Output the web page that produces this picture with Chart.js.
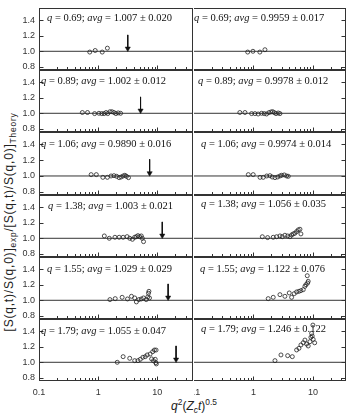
<!DOCTYPE html>
<html>
<head>
<meta charset="utf-8">
<script src="https://cdn.jsdelivr.net/npm/chart.js@4/dist/chart.umd.min.js"></script>
<style>
  html, body { margin: 0; padding: 0; background: #fff; }
  #wrap { position: relative; width: 351px; height: 418px; overflow: hidden; }
  .cell { position: absolute; }
  .cell canvas { display: block; }
  #ytitle {
    position: absolute; left: 9px; top: 222px; white-space: nowrap;
    transform: translate(-50%, -50%) rotate(-90deg);
    font: 12px "Liberation Sans", Arial, sans-serif; color: #222; letter-spacing: 0.8px; line-height: 1;
  }
  #xtitle {
    position: absolute; left: 194px; top: 406px; white-space: nowrap;
    transform: translate(-50%, -50%);
    font: 12px "Liberation Sans", Arial, sans-serif; color: #222; line-height: 1;
  }
  sub, sup { font-size: 70%; line-height: 0; }
</style>
</head>
<body>
<div id="wrap">
  <div id="ytitle">[S(q,t)/S(q,0)]<sub>exp</sub>/[S(q,t)/S(q,0)]<sub>Theory</sub></div>
  <div id="xtitle"><i>q</i><sup>2</sup>(<i>Z</i><sub><i>c</i></sub><i>t</i>)<sup>0.5</sup></div>
</div>
<script>
// axis setup
const yMin = 0.76, yMax = 1.555;
const yTicks = [0.8, 1.0, 1.2, 1.4];
const xTickLabels = [0.1, 1, 10];
const xMinAll = 0.1, xMaxLeft = 40, xMaxRight = 36;
const refLevel = 1.0;

// panel labels
const qValues = ['0.69', '0.89', '1.06', '1.38', '1.55', '1.79'];
const avgLeft = ['1.007 ± 0.020', '1.002 ± 0.012', '0.9890 ± 0.016', '1.003 ± 0.021', '1.029 ± 0.029', '1.055 ± 0.047'];
const avgRight = ['0.9959 ± 0.017', '0.9978 ± 0.012', '0.9974 ± 0.014', '1.056 ± 0.035', '1.122 ± 0.076', '1.246 ± 0.122'];

// arrow positions (left column only)
const arrowX = [3.16, 5.2, 7.4, 12.1, 15.2, 20.7];
const arrowTop = 1.21, arrowEnd = 1.035;

// left column data
const xL1 = [0.72, 0.89, 1.17, 1.43];
const yL1 = [0.99, 1.01, 0.99, 1.04];
const xL2 = [0.54, 0.66, 0.87, 1.03, 1.15, 1.26, 1.36, 1.45, 1.58, 1.71, 1.85, 1.99, 2.18, 2.39];
const yL2 = [1.01, 1.01, 0.996, 1.0, 0.996, 0.996, 1.01, 0.996, 1.02, 1.02, 1.01, 0.996, 1.005, 1.0];
const xL3 = [0.76, 0.93, 1.2, 1.43, 1.65, 1.85, 2.05, 2.26, 2.44, 2.64, 2.82, 3.01, 3.25];
const yL3 = [1.017, 1.017, 0.983, 0.983, 1.0, 1.004, 0.996, 0.979, 0.987, 1.0, 1.009, 0.996, 0.979];
const xL4 = [1.27, 1.54, 1.92, 2.26, 2.64, 3.08, 3.41, 3.79, 4.14, 4.42, 4.7, 5.01, 5.35, 5.56, 5.84];
const yL4 = [1.03, 1.0, 1.013, 1.013, 1.013, 1.021, 1.0, 0.987, 1.013, 1.021, 1.034, 1.021, 1.03, 1.0, 0.957];
const xL5 = [1.58, 1.94, 2.54, 3.13, 3.65, 4.14, 4.42, 4.88, 5.35, 5.84, 6.48, 6.89, 7.08, 7.2, 7.36];
const yL5 = [1.009, 1.021, 1.038, 1.017, 1.051, 1.03, 0.979, 1.009, 1.017, 1.03, 1.009, 1.043, 1.09, 1.115, 1.03];
const xL6 = [2.1, 2.64, 3.41, 4.14, 4.7, 5.15, 5.69, 6.24, 6.73, 7.55, 8.35, 8.91, 9.51, 8.0, 8.6, 9.2, 9.6, 9.4];
const yL6 = [1.0, 1.072, 1.051, 1.021, 1.021, 1.038, 1.064, 1.072, 1.094, 1.106, 1.136, 1.157, 1.157, 1.043, 1.021, 1.038, 0.979, 0.996];

// right column data
const xR1 = [0.8, 0.98, 1.28, 1.56];
const yR1 = [0.99, 1.0, 0.99, 1.02];
const xR2 = [0.59, 0.72, 0.93, 1.06, 1.2, 1.37, 1.52, 1.66, 1.82, 1.97, 2.1, 2.24, 2.39, 2.61, 2.79];
const yR2 = [1.01, 1.01, 0.996, 0.996, 0.991, 1.0, 0.996, 0.991, 1.009, 1.017, 1.021, 1.009, 0.996, 1.004, 0.996];
const xR3 = [0.82, 0.99, 1.29, 1.46, 1.67, 1.89, 2.07, 2.3, 2.55, 2.79, 2.98, 3.3, 3.61, 3.85];
const yR3 = [1.017, 1.017, 0.983, 0.983, 1.0, 1.004, 0.987, 0.979, 0.987, 1.0, 1.009, 1.013, 1.0, 0.996];
const xR4 = [1.41, 1.73, 2.15, 2.45, 2.79, 3.05, 3.38, 3.76, 4.11, 4.38, 4.67, 4.98, 5.32, 5.66, 6.05, 6.28];
const yR4 = [1.02, 1.009, 1.013, 1.02, 1.03, 1.02, 1.039, 1.03, 1.02, 1.043, 1.056, 1.065, 1.086, 1.108, 1.116, 1.056];
const xR5 = [1.77, 2.15, 2.79, 3.38, 4.0, 4.38, 4.85, 5.32, 5.82, 6.28, 6.88, 7.34, 7.63, 8.15, 8.33, 8.03];
const yR5 = [1.021, 1.038, 1.072, 1.051, 1.094, 1.038, 1.085, 1.107, 1.115, 1.124, 1.136, 1.179, 1.2, 1.221, 1.243, 1.315];
const xR6 = [2.3, 2.9, 3.76, 4.5, 5.32, 5.82, 6.28, 6.88, 7.34, 7.84, 8.34, 8.91, 9.25, 9.5, 9.73, 10.1, 10.7, 10.0];
const yR6 = [1.021, 1.094, 1.085, 1.072, 1.158, 1.179, 1.222, 1.251, 1.285, 1.234, 1.209, 1.264, 1.32, 1.371, 1.337, 1.294, 1.25, 1.477];

const leftX = [xL1, xL2, xL3, xL4, xL5, xL6];
const leftY = [yL1, yL2, yL3, yL4, yL5, yL6];
const rightX = [xR1, xR2, xR3, xR4, xR5, xR6];
const rightY = [yR1, yR2, yR3, yR4, yR5, yR6];

// layout (pixels)
const rowEdges = [8, 70, 132, 195, 257, 319, 381];
const colLeft = { left: 0, width: 194, axisW: 39, padRight: 1 };
const colRight = { left: 194, width: 157, padRight: 5 };
const textDxL = [8, 2, 2, 9, 8, 2], textDyL = [10, 11, 12, 11, 12, 12];
const textDxR = [0, 4, 7, 7, 6, 7], textDyR = [10, 11, 12, 9, 12, 10];

const ink = '#222';
const tickFont = { family: '"Liberation Sans", Arial, sans-serif', size: 9 };

function minorTicks(max) {
  const out = [];
  for (let d = 0.1; d < max; d *= 10) {
    for (let k = 1; k < 10; k++) {
      const v = +(d * k).toPrecision(3);
      if (v <= max) out.push({ v, major: k === 1 });
    }
  }
  return out;
}

// frame, inward ticks, panel label
const panelDecor = {
  id: 'panelDecor',
  afterDraw(chart) {
    const o = chart.options.plugins.panelDecor;
    const ctx = chart.ctx, ca = chart.chartArea;
    const xs = chart.scales.x, ys = chart.scales.y;
    ctx.save();
    ctx.strokeStyle = '#333';
    ctx.lineWidth = 1;
    ctx.beginPath();
    const L = Math.round(ca.left) + 0.5, R = Math.round(ca.right) - 0.5;
    const T = Math.round(ca.top) + 0.5, B = Math.round(ca.bottom) - 0.5;
    ctx.moveTo(ca.left, T); ctx.lineTo(ca.right, T);
    ctx.moveTo(ca.left, B); ctx.lineTo(ca.right, B);
    if (o.side === 'left') { ctx.moveTo(L, ca.top); ctx.lineTo(L, ca.bottom); ctx.moveTo(R, ca.top); ctx.lineTo(R, ca.bottom); }
    else { ctx.moveTo(R, ca.top); ctx.lineTo(R, ca.bottom); }
    // bottom ticks
    minorTicks(xs.max).forEach(t => {
      const px = Math.round(xs.getPixelForValue(t.v)) + 0.5;
      if (px < ca.left + 1 || px > ca.right - 1) return;
      ctx.moveTo(px, B); ctx.lineTo(px, B - (t.major ? 4 : 2.5));
    });
    // y ticks
    yTicks.forEach(v => {
      const py = Math.round(ys.getPixelForValue(v)) + 0.5;
      if (o.side === 'left') { ctx.moveTo(L, py); ctx.lineTo(L + 4, py); }
      else { ctx.moveTo(R, py); ctx.lineTo(R - 4, py); }
    });
    ctx.stroke();

    // label: q = ..; avg = ..
    const segs = [
      { t: 'q', i: true }, { t: ' = ' + o.q + '; ' },
      { t: 'avg', i: true }, { t: ' = ' + o.avg }
    ];
    let x = ca.left + o.dx;
    const y = ca.top + o.dy;
    ctx.fillStyle = '#111';
    ctx.textBaseline = 'middle';
    segs.forEach(s => {
      ctx.font = (s.i ? 'italic ' : '') + '10.5px "Liberation Serif", "Times New Roman", serif';
      ctx.fillText(s.t, x, y);
      x += ctx.measureText(s.t).width;
    });
    ctx.restore();
  }
};

function makePanel(row, side) {
  const isLeft = side === 'left';
  const col = isLeft ? colLeft : colRight;
  const top = rowEdges[row], bottom = rowEdges[row + 1];
  const padTop = row === 0 ? 8 : 0;
  const axisH = row === 5 ? 37 : 0;
  const h = bottom - top + padTop + axisH;

  const div = document.createElement('div');
  div.className = 'cell';
  div.style.left = col.left + 'px';
  div.style.top = (top - padTop) + 'px';
  const cv = document.createElement('canvas');
  cv.width = col.width; cv.height = h;
  cv.style.width = col.width + 'px'; cv.style.height = h + 'px';
  div.appendChild(cv);
  document.getElementById('wrap').appendChild(div);

  const xs = isLeft ? leftX[row] : rightX[row];
  const ysv = isLeft ? leftY[row] : rightY[row];
  const xMax = isLeft ? xMaxLeft : xMaxRight;

  const datasets = [
    {
      type: 'line',
      data: [{ x: xMinAll, y: refLevel }, { x: xMax, y: refLevel }],
      borderColor: '#333', borderWidth: 1, pointRadius: 0, order: 3
    },
    {
      type: 'scatter',
      data: xs.map((v, i) => ({ x: v, y: ysv[i] })),
      pointStyle: 'circle', pointRadius: 2, borderWidth: 0.8,
      borderColor: ink, backgroundColor: 'rgba(255,255,255,0)', order: 1
    }
  ];
  if (isLeft) {
    datasets.push({
      type: 'line',
      data: [{ x: arrowX[row], y: arrowTop }, { x: arrowX[row], y: arrowEnd }],
      borderColor: '#111', borderWidth: 1,
      pointStyle: 'triangle', pointRotation: 180, pointRadius: [0, 3],
      pointBackgroundColor: '#111', pointBorderColor: '#111', pointBorderWidth: 0.5, order: 2
    });
  }

  new Chart(cv, {
    type: 'scatter',
    data: { datasets },
    options: {
      responsive: false,
      animation: false,
      devicePixelRatio: 1,
      layout: { autoPadding: false, padding: { top: padTop, right: col.padRight, left: 0, bottom: 0 } },
      plugins: {
        legend: { display: false },
        tooltip: { enabled: false },
        panelDecor: {
          side,
          q: qValues[row],
          avg: isLeft ? avgLeft[row] : avgRight[row],
          dx: isLeft ? textDxL[row] : textDxR[row],
          dy: isLeft ? textDyL[row] : textDyR[row]
        }
      },
      scales: {
        x: {
          type: 'logarithmic', min: xMinAll, max: xMax,
          display: row === 5,
          grid: { display: false, drawTicks: false },
          border: { display: false },
          afterBuildTicks: s => { s.ticks = xTickLabels.map(v => ({ value: v })); },
          afterFit: s => { s.height = axisH; s.paddingLeft = 0; s.paddingRight = 0; },
          ticks: {
            autoSkip: false, maxRotation: 0, padding: 6, color: '#333', font: tickFont,
            callback: v => String(v)
          }
        },
        y: {
          type: 'linear', min: yMin, max: yMax,
          display: isLeft,
          grid: { display: false, drawTicks: false },
          border: { display: false },
          afterBuildTicks: s => { s.ticks = yTicks.map(v => ({ value: v })); },
          afterFit: s => { s.width = col.axisW || 0; s.paddingTop = 0; s.paddingBottom = 0; },
          ticks: { padding: 4, color: '#333', font: tickFont, callback: v => v.toFixed(1) }
        }
      }
    },
    plugins: [panelDecor]
  });
}

for (let r = 0; r < 6; r++) {
  makePanel(r, 'left');
  makePanel(r, 'right');
}
</script>
</body>
</html>
